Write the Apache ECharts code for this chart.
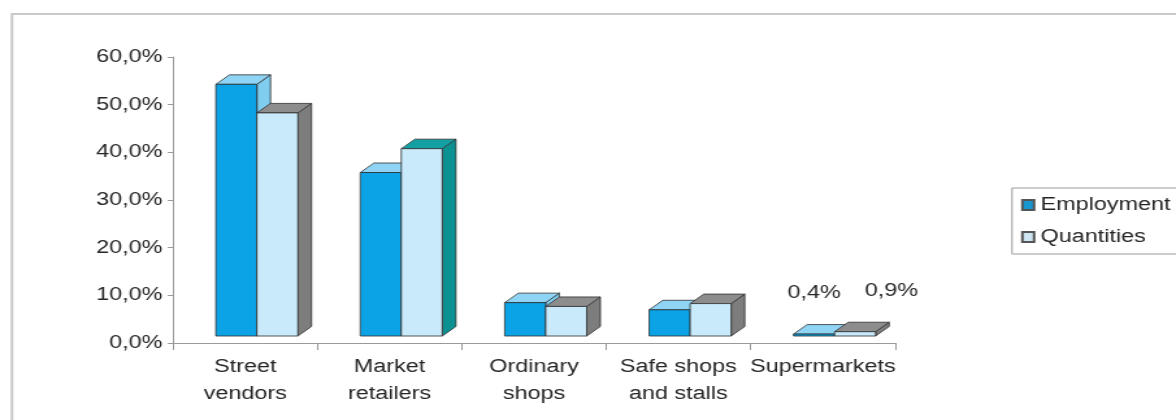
<!DOCTYPE html>
<html>
<head>
<meta charset="utf-8">
<script src="https://cdn.jsdelivr.net/npm/echarts@6/dist/echarts.min.js"></script>
<style>
  html, body { margin: 0; padding: 0; background: #fff; overflow: hidden; }
  #wrap { width: 1176px; height: 420px; overflow: hidden; position: relative; }
  /* the chart is laid out narrow and widened horizontally */
  #chart { width: 905px; height: 420px; transform: scaleX(1.29945); transform-origin: 0 0; }
</style>
</head>
<body>
<div id="wrap"><div id="chart"></div></div>
<script>
// Shares by type of outlet (%)
const categories = ['Street\nvendors', 'Market\nretailers', 'Ordinary\nshops', 'Safe shops\nand stalls', 'Supermarkets'];
const seriesNames = ['Employment', 'Quantities'];
const employment = [52.8, 34.3, 7.0, 5.5, 0.4];
const quantities = [46.8, 39.3, 6.2, 6.8, 0.9];
const labelledCategories = ['Supermarkets'];

// 3D box geometry (pixels, before the horizontal widening)
const BAR_FRAC = 0.284;   // share of a category slot taken by one bar
const FLOOR_DX = 9, FLOOR_DY = 7;   // bars stand half way back on the floor
const DEPTH_DX = 10.5, DEPTH_DY = 9.5;

const FONT = "'Liberation Sans', Arial, sans-serif";
const TEXT = '#262626';
const EDGE = '#2e2e2e';

const faceStyles = [
  { front: '#0ba3e6', top: '#8fd4f4', side: '#7fcdef', legend: '#1597cf' },
  { front: '#c8eafb', top: '#8d8d8d', side: '#7d7d7d', legend: '#cfe7f3' }
];
// the second Market retailers bar has teal top and side faces
const faceOverrides = { '1-1': { top: '#12a0a2', side: '#0c9193' } };
// horizontal shift of the value label for each series
const labelShift = [0, 28];

function fmt(v) { return v.toFixed(1).replace('.', ',') + '%'; }

function boxRenderer(s) {
  return function (params, api) {
    const ci = api.value(0);
    const v = api.value(1);
    const base = api.coord([ci, 0]);
    const tip = api.coord([ci, v]);
    const slot = api.size([1, 0])[0];
    const w = slot * BAR_FRAC;
    const x0 = base[0] + FLOOR_DX - w + s * w;
    const x1 = x0 + w;
    const yb = base[1] - FLOOR_DY;
    const yt = tip[1] - FLOOR_DY;
    const st = Object.assign({}, faceStyles[s], faceOverrides[ci + '-' + s] || {});
    const edge = { stroke: EDGE, lineWidth: 0.8, lineJoin: 'round' };
    const children = [
      { type: 'polygon', shape: { points: [[x1, yt], [x1 + DEPTH_DX, yt - DEPTH_DY], [x1 + DEPTH_DX, yb - DEPTH_DY], [x1, yb]] },
        style: Object.assign({ fill: st.side }, edge) },
      { type: 'polygon', shape: { points: [[x0, yt], [x1, yt], [x1 + DEPTH_DX, yt - DEPTH_DY], [x0 + DEPTH_DX, yt - DEPTH_DY]] },
        style: Object.assign({ fill: st.top }, edge) },
      { type: 'rect', shape: { x: x0, y: yt, width: w, height: yb - yt },
        style: Object.assign({ fill: st.front }, edge) }
    ];
    if (labelledCategories.indexOf(categories[ci]) >= 0) {
      children.push({
        type: 'text',
        style: { text: fmt(v), x: (x0 + x1) / 2 + labelShift[s], y: yt - 41,
                 fill: TEXT, fontSize: 18, fontFamily: FONT, align: 'center', verticalAlign: 'middle' }
      });
    }
    return { type: 'group', children: children };
  };
}

const values = [employment, quantities];
const chart = echarts.init(document.getElementById('chart'), null, { renderer: 'canvas' });
chart.setOption({
  animation: false,
  backgroundColor: '#ffffff',
  graphic: [{
    type: 'rect', silent: true, z: -10,
    shape: { x: 9.2, y: 14, width: 2000, height: 1000 },
    style: { fill: 'none', stroke: '#c9c9c9', lineWidth: 2 }
  }],
  grid: { left: 133.1, right: 216.2, top: 57, bottom: 77, containLabel: false },
  legend: {
    data: seriesNames,
    orient: 'vertical',
    left: 778.8, top: 188,
    icon: 'rect', itemWidth: 9, itemHeight: 10, itemGap: 12,
    padding: [7, 10, 7, 7],
    borderColor: '#9a9a9a', borderWidth: 1, borderRadius: 0,
    textStyle: { color: TEXT, fontSize: 18, fontFamily: FONT, lineHeight: 20 },
    selectedMode: false
  },
  xAxis: {
    type: 'category',
    data: categories,
    boundaryGap: true,
    axisLine: { lineStyle: { color: '#9a9a9a', width: 1 } },
    axisTick: { show: true, length: 7, lineStyle: { color: '#9a9a9a' } },
    axisLabel: { interval: 0, color: TEXT, fontSize: 18, fontFamily: FONT, lineHeight: 27, margin: 11 },
    splitLine: { show: false }
  },
  yAxis: {
    type: 'value',
    min: 0, max: 60, interval: 10,
    axisLine: { show: true, lineStyle: { color: '#9a9a9a', width: 1 } },
    axisTick: { show: true, length: 4, lineStyle: { color: '#9a9a9a' } },
    axisLabel: { color: TEXT, fontSize: 18, fontFamily: FONT, margin: 8, formatter: fmt },
    splitLine: { show: false }
  },
  series: seriesNames.map(function (name, s) {
    return {
      name: name,
      type: 'custom',
      renderItem: boxRenderer(s),
      itemStyle: { color: faceStyles[s].legend, borderColor: '#555', borderWidth: 1 },
      encode: { x: 0, y: 1 },
      data: values[s].map(function (v, i) { return [i, v]; }),
      z: 2 + s
    };
  })
});
</script>
</body>
</html>
